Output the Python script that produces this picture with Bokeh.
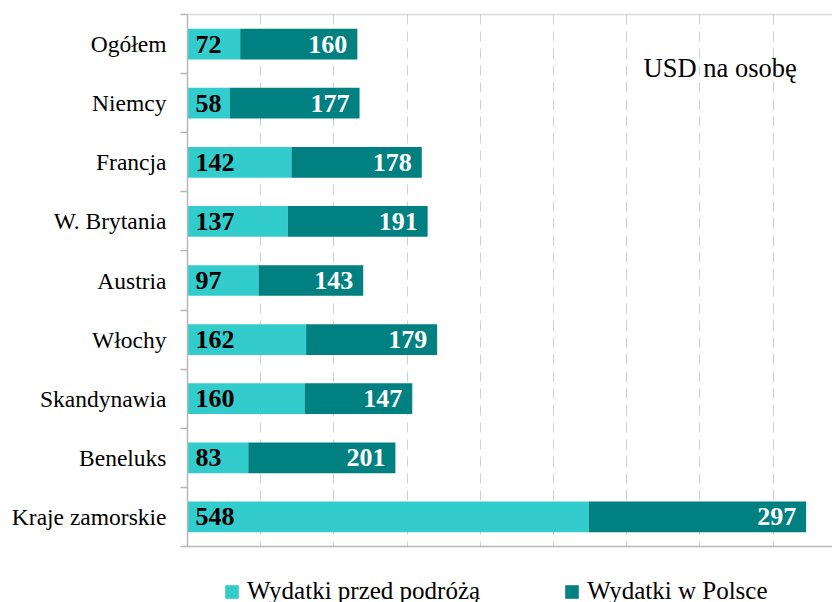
from bokeh.plotting import figure
from bokeh.layouts import column
from bokeh.models import (ColumnDataSource, Range1d, FixedTicker, SingleIntervalTicker,
                          LinearAxis, Legend, LegendItem, Label, LabelSet)
from bokeh.embed import file_html
from bokeh.resources import INLINE

categories = ["Ogółem", "Niemcy", "Francja", "W. Brytania", "Austria",
              "Włochy", "Skandynawia", "Beneluks", "Kraje zamorskie"]
before_trip = [72, 58, 142, 137, 97, 162, 160, 83, 548]
in_poland = [160, 177, 178, 191, 143, 179, 147, 201, 297]
series_names = ["Wydatki przed podróżą", "Wydatki w Polsce"]
unit_note = "USD na osobę"

LIGHT = "#33CCCC"
DARK = "#008080"
FONT = "Liberation Serif"

ypos = [i + 0.5 for i in range(len(categories))]
totals = [a + b for a, b in zip(before_trip, in_poland)]
src = ColumnDataSource(dict(y=ypos, pre=before_trip, pl=in_poland, tot=totals,
                            pre_txt=[str(v) for v in before_trip],
                            pl_txt=[str(v) for v in in_poland]))

p = figure(width=832, height=548, x_range=Range1d(0, 881), y_range=Range1d(9, 0),
           output_backend="svg", toolbar_location=None,
           min_border_left=187, min_border_top=14, min_border_right=0, min_border_bottom=2)
p.outline_line_color = None
p.background_fill_color = "white"

p.hbar(y="y", left=0, right="pre", height=0.52, fill_color=LIGHT, line_color=None, source=src)
p.hbar(y="y", left="pre", right="tot", height=0.52, fill_color=DARK, line_color=None, source=src)

xa = p.xaxis[0]
xa.ticker = FixedTicker(ticks=[])
xa.major_tick_line_color = None
xa.minor_tick_line_color = None
xa.major_tick_out = 0
xa.major_tick_in = 0
xa.major_label_standoff = 0
xa.axis_line_color = "#B8B8B8"
xa.axis_line_width = 1.5

top = LinearAxis(ticker=FixedTicker(ticks=[]), major_tick_out=0, major_tick_in=0,
                 major_label_standoff=0, axis_line_color="#D9D9D9", axis_line_width=1.5)
p.add_layout(top, "above")

p.xgrid.ticker = SingleIntervalTicker(interval=100)
p.xgrid.grid_line_color = "#D0D0D0"
p.xgrid.grid_line_dash = "10 7"
p.ygrid.grid_line_color = None

ya = p.yaxis[0]
ya.ticker = FixedTicker(ticks=ypos, minor_ticks=list(range(len(categories) + 1)))
ya.major_label_overrides = {y: c for y, c in zip(ypos, categories)}
ya.major_tick_line_color = None
ya.major_tick_out = 0
ya.major_tick_in = 0
ya.minor_tick_out = 7
ya.minor_tick_in = 0
ya.minor_tick_line_color = "#B8B8B8"
ya.minor_tick_line_width = 1.5
ya.axis_line_color = "#B8B8B8"
ya.axis_line_width = 1.5
ya.major_label_standoff = 14
ya.major_label_text_font = FONT
ya.major_label_text_font_size = "23.5px"
ya.major_label_text_color = "black"

l1 = LabelSet(x=0, y="y", text="pre_txt", x_offset=8, source=src, text_font=FONT,
              text_font_size="26px", text_font_style="bold", text_color="black",
              text_align="left", text_baseline="middle")
l2 = LabelSet(x="tot", y="y", text="pl_txt", x_offset=-10, source=src, text_font=FONT,
              text_font_size="26px", text_font_style="bold", text_color="white",
              text_align="right", text_baseline="middle")
p.add_layout(l1)
p.add_layout(l2)

p.add_layout(Label(x=623, y=0.91, text=unit_note, text_font=FONT, text_font_size="26.5px",
                   text_color="black", text_baseline="middle", text_align="left"))

# legend strip below the chart (its swatch renderers use the same data, out of view)
pl = figure(width=832, height=54, x_range=Range1d(0, 881), y_range=Range1d(100, 101),
            output_backend="svg", toolbar_location=None,
            min_border_left=0, min_border_top=0, min_border_right=0, min_border_bottom=0)
pl.axis.visible = False
pl.grid.visible = False
pl.outline_line_color = None
s1 = pl.hbar(y="y", left=0, right="pre", height=0.52, fill_color=LIGHT, line_color=None, source=src)
s2 = pl.hbar(y="y", left="pre", right="tot", height=0.52, fill_color=DARK, line_color=None, source=src)

legend = Legend(items=[LegendItem(label=series_names[0], renderers=[s1]),
                       LegendItem(label=series_names[1], renderers=[s2])],
                orientation="horizontal", location=(36, -3),
                glyph_width=17, glyph_height=17, label_standoff=7, spacing=83,
                padding=0, margin=0, border_line_color=None, background_fill_alpha=0,
                label_text_font=FONT, label_text_font_size="25px", label_text_color="black")
pl.add_layout(legend, "center")

layout = column(p, pl, spacing=0)
open("out.html", "w").write(file_html(layout, INLINE))
